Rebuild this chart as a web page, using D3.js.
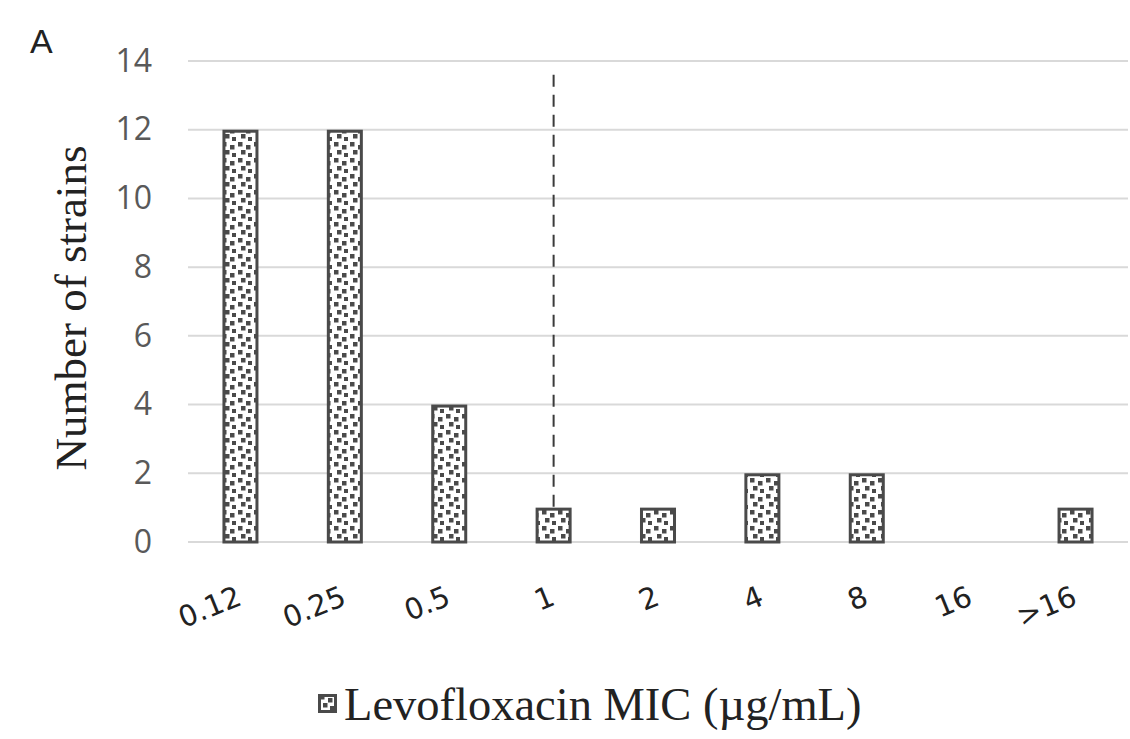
<!DOCTYPE html>
<html>
<head>
<meta charset="utf-8">
<script src="https://cdn.jsdelivr.net/npm/d3@7"></script>
<style>
  body { margin: 0; background: #fff; }
  svg { display: block; }
</style>
</head>
<body>
<svg id="chart" width="1130" height="739"></svg>
<script>
var categories = ['0.12', '0.25', '0.5', '1', '2', '4', '8', '16', '>16'];
var strains = [12, 12, 4, 1, 1, 2, 2, 0, 1];
var yTicks = [0, 2, 4, 6, 8, 10, 12, 14];
var breakpoint = '1';      // dashed marker sits on this category
var breakpointTop = 13.6;  // how far up the marker goes

var margin = {top: 61, left: 188, right: 2, bottom: 197};
var width = 1130 - margin.left - margin.right;
var height = 739 - margin.top - margin.bottom;

var svg = d3.select("#chart");

// dotted fill like the excel pattern
var defs = svg.append("defs");
var pat = defs.append("pattern")
    .attr("id", "dots")
    .attr("patternUnits", "userSpaceOnUse")
    .attr("width", 16)
    .attr("height", 16);
pat.append("rect").attr("width", 16).attr("height", 16).attr("fill", "#fff");
[[2, 1], [10, 4], [5, 9], [12, 12]].forEach(function (p) {
    pat.append("rect")
        .attr("x", p[0]).attr("y", p[1])
        .attr("width", 4.5).attr("height", 4.5)
        .attr("fill", "#4a4a4a");
});

var g = svg.append("g")
    .attr("transform", "translate(" + margin.left + "," + margin.top + ")");

var xScale = d3.scaleBand()
    .domain(categories)
    .range([0, width])
    .paddingInner(0.655)
    .paddingOuter(0.33);

var yScale = d3.scaleLinear()
    .domain([0, 14])
    .range([height, 0]);

// gridlines
g.append("g")
    .selectAll("line")
    .data(yTicks)
    .enter().append("line")
    .attr("x1", 0)
    .attr("x2", width)
    .attr("y1", function (d) { return yScale(d); })
    .attr("y2", function (d) { return yScale(d); })
    .attr("stroke", "#d9d9d9")
    .attr("stroke-width", 2);

// y axis labels
var yAxis = g.append("g")
    .attr("transform", "translate(-36,0)")
    .call(d3.axisLeft(yScale).tickValues(yTicks).tickSize(0).tickPadding(0));
yAxis.select(".domain").remove();
yAxis.selectAll("text")
    .attr("fill", "#595959")
    .style("font-family", "'Open Sans', sans-serif")
    .style("font-size", "32px");

// bars
g.selectAll(".bar")
    .data(categories)
    .enter().append("rect")
    .attr("class", "bar")
    .attr("x", function (d) { return xScale(d) + 1.5; })
    .attr("width", xScale.bandwidth() - 3)
    .attr("y", function (d, i) { return yScale(strains[i]) + 1.5; })
    .attr("height", function (d, i) { return Math.max(0, height - yScale(strains[i]) - 1.5); })
    .attr("fill", "url(#dots)")
    .attr("stroke", "#4a4a4a")
    .attr("stroke-width", 3)
    .style("display", function (d, i) { return strains[i] > 0 ? null : "none"; });

// dashed breakpoint marker
var bx = xScale(breakpoint) + xScale.bandwidth() / 2;
g.append("line")
    .attr("x1", bx).attr("x2", bx)
    .attr("y1", yScale(breakpointTop))
    .attr("y2", yScale(strains[categories.indexOf(breakpoint)]))
    .attr("stroke", "#3a3a3a")
    .attr("stroke-width", 2)
    .attr("stroke-dasharray", "12,8");

// x tick labels, tilted
g.append("g")
    .selectAll("text")
    .data(categories)
    .enter().append("text")
    .attr("transform", function (d) {
        return "translate(" + (xScale(d) + xScale.bandwidth() / 2 + 3) + "," + (height + 62) + ") rotate(-22)";
    })
    .attr("text-anchor", "end")
    .attr("fill", "#222")
    .style("font-family", "'DejaVu Sans', sans-serif")
    .style("font-size", "29px")
    .text(function (d) { return d; });

// panel letter
svg.append("text")
    .attr("x", 30)
    .attr("y", 53)
    .attr("fill", "#222")
    .style("font-family", "'Liberation Sans', Arial, sans-serif")
    .style("font-size", "34px")
    .text("A");

// y title
svg.append("text")
    .attr("transform", "translate(86,308) rotate(-90)")
    .attr("text-anchor", "middle")
    .attr("fill", "#222")
    .style("font-family", "'Liberation Serif', 'Times New Roman', serif")
    .style("font-size", "45px")
    .text("Number of strains");

// legend
var leg = svg.append("g").attr("transform", "translate(318,694)");
leg.append("rect")
    .attr("x", 1.5).attr("y", 1.5)
    .attr("width", 16).attr("height", 16)
    .attr("fill", "url(#dots)")
    .attr("stroke", "#4a4a4a")
    .attr("stroke-width", 3);
leg.append("text")
    .attr("x", 26)
    .attr("y", 26)
    .attr("fill", "#222")
    .style("font-family", "'Liberation Serif', 'Times New Roman', serif")
    .style("font-size", "46.5px")
    .text("Levofloxacin MIC (\u00b5g/mL)");
</script>
</body>
</html>
